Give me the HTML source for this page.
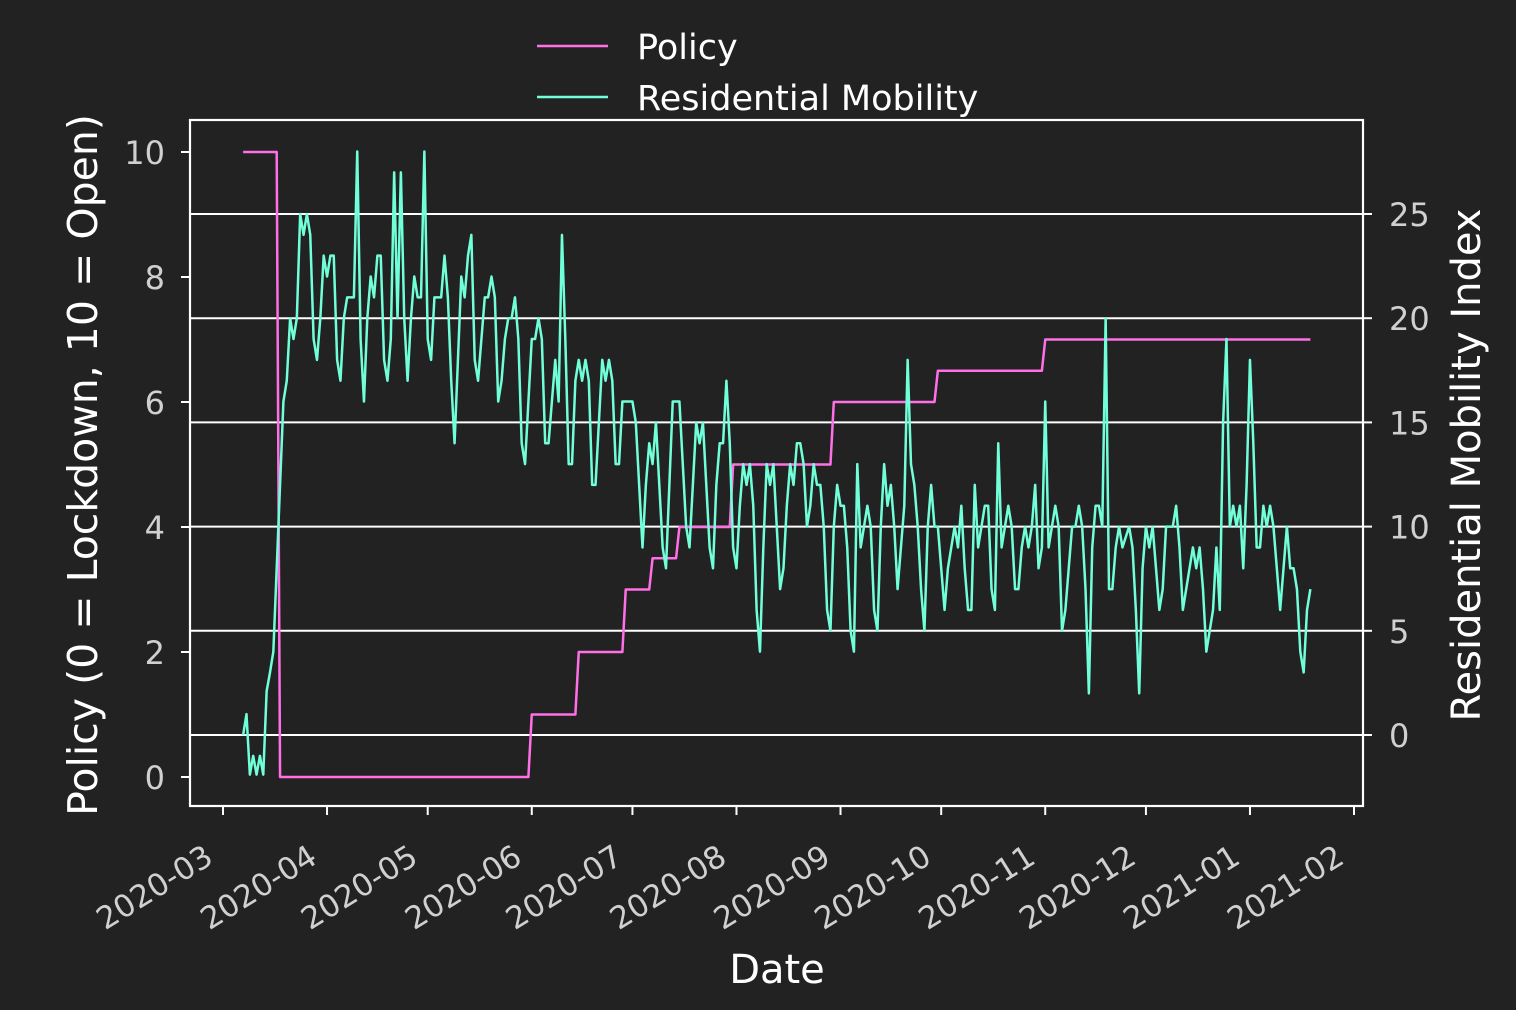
<!DOCTYPE html>
<html><head><meta charset="utf-8">
<style>
html,body{margin:0;padding:0;background:#222222;}
svg{display:block;font-family:"DejaVu Sans","Liberation Sans",sans-serif;}
</style></head>
<body>
<svg id="chart" width="1516" height="1010" viewBox="0 0 1516 1010" xmlns="http://www.w3.org/2000/svg">
<rect width="1516" height="1010" fill="#222222"/>
<g id="grid"></g>
<g id="series"></g>
<rect x="190" y="120" width="1173" height="686" fill="none" stroke="#ffffff" stroke-width="2.2"/>
<g id="axes"></g>
<text x="0" y="0" transform="translate(97,465) rotate(-90)" text-anchor="middle" font-size="41" fill="#ffffff">Policy (0 = Lockdown, 10 = Open)</text>
<text x="0" y="0" transform="translate(1480,465) rotate(-90)" text-anchor="middle" font-size="40" fill="#ffffff">Residential Mobility Index</text>
<text x="777" y="983" text-anchor="middle" font-size="40" fill="#ffffff">Date</text>
<g>
<g>
<line x1="537" y1="46" x2="608" y2="46" stroke="#ff70e6" stroke-width="2.5"/>
<text x="637" y="59" font-size="35" fill="#ffffff">Policy</text>
</g>
<g>
<line x1="537" y1="97" x2="608" y2="97" stroke="#70ffd8" stroke-width="2.5"/>
<text x="637" y="110" font-size="35" fill="#ffffff">Residential Mobility</text>
</g>
</g>
</svg>
<script>
// Data (days counted from 2020-03-01)
const startDay = 6;
const mobilityValues = [0,1,-1.9,-1,-1.9,-1,-1.9,2.1,3,4,8,12,16,17,20,19,20,25,24,25,24,19,18,20,23,22,23,23,18,17,20,21,21,21,28,19,16,20,22,21,23,23,18,17,19,27,20,27,20,17,20,22,21,21,28,19,18,21,21,21,23,21,17,14,18,22,21,23,24,18,17,19,21,21,22,21,16,17,19,20,20,21,19,14,13,16,19,19,20,19,14,14,16,18,16,24,19,13,13,17,18,17,18,17,12,12,15,18,17,18,17,13,13,16,16,16,16,15,12,9,12,14,13,15,12,9,8,12,16,16,16,13,10,9,12,15,14,15,12,9,8,12,14,14,17,14,9,8,11,13,12,13,11,6,4,9,13,12,13,10,7,8,11,13,12,14,14,13,10,11,13,12,12,10,6,5,10,12,11,11,9,5,4,13,9,10,11,10,6,5,10,13,11,12,10,7,9,11,18,13,12,10,7,5,10,12,10,10,8,6,8,9,10,9,11,8,6,6,12,9,10,11,11,7,6,14,9,10,11,10,7,7,9,10,9,10,12,8,9,16,9,10,11,10,5,6,8,10,10,11,10,7,2,9,11,11,10,20,7,7,9,10,9,9.5,10,9,6,2,8,10,9,10,8,6,7,10,10,10,11,9,6,7,8,9,8,9,7,4,5,6,9,6,15,19,10,11,10,11,8,12,18,14,9,9,11,10,11,10,8,6,8,10,8,8,7,4,3,6,7];
const policyChangeDays = [6,17,92,106,120,128,136,152,182,213,245,324];
const policyValues = [10,0,1,2,3,3.5,4,5,6,6.5,7,7];
const xTickLabels = ["2020-03","2020-04","2020-05","2020-06","2020-07","2020-08","2020-09","2020-10","2020-11","2020-12","2021-01","2021-02"];
const xTickDays = [0,31,61,92,122,153,184,214,245,275,306,337];
const leftTicks = [0,2,4,6,8,10];
const rightTicks = [0,5,10,15,20,25];

const NS = "http://www.w3.org/2000/svg";
const xScale = d => 223 + d * (1354 - 223) / 337;
const yLeft = v => 777 - v * 62.5;
const yRight = v => 735 - v * 20.84;
function mk(tag, attrs, parent){
  const e = document.createElementNS(NS, tag);
  for (const k in attrs) e.setAttribute(k, attrs[k]);
  parent.appendChild(e);
  return e;
}
const grid = document.getElementById("grid");
const axes = document.getElementById("axes");
const series = document.getElementById("series");

rightTicks.forEach(t => {
  const y = yRight(t);
  const gl = mk("line", {x1:190, x2:1363, y1:y, y2:y, stroke:"#ffffff", "stroke-width":2}, grid);
  
  
  const tk = mk("line", {x1:1363, x2:1372, y1:y, y2:y, stroke:"#ffffff", "stroke-width":2}, axes);
  
  
  const lb = mk("text", {x:1389, y:y + 12, "font-size":32, fill:"#d0d0d0"}, axes);
  lb.textContent = t;
  
  
});
leftTicks.forEach(t => {
  const y = yLeft(t);
  const tk = mk("line", {x1:181, x2:190, y1:y, y2:y, stroke:"#ffffff", "stroke-width":2}, axes);
  
  
  const lb = mk("text", {x:165, y:y + 12, "font-size":32, fill:"#d0d0d0", "text-anchor":"end"}, axes);
  lb.textContent = t;
  
  
});
xTickDays.forEach((d, i) => {
  const x = xScale(d);
  const tk = mk("line", {x1:x, x2:x, y1:806, y2:815, stroke:"#ffffff", "stroke-width":2}, axes);
  
  
  const lb = mk("text", {x:0, y:0, "font-size":31, fill:"#d0d0d0", "text-anchor":"end",
    transform:"translate(" + (x - 8) + ",862) rotate(-32)"}, axes);
  lb.textContent = xTickLabels[i];
  
  
});

// policy step line
let pp = "";
for (let i = 0; i < policyChangeDays.length; i++) {
  const x = xScale(policyChangeDays[i]);
  const y = yLeft(policyValues[i]);
  if (i === 0) pp += "M" + x + "," + y;
  else {
    const prevX = xScale(policyChangeDays[i] - 1);
    pp += " L" + prevX + "," + yLeft(policyValues[i-1]) + " L" + x + "," + y;
  }
}
const pl = mk("path", {d:pp, fill:"none", stroke:"#ff70e6", "stroke-width":2.5, "stroke-linejoin":"round"}, series);



// mobility line
const pts = mobilityValues.map((v, i) => xScale(startDay + i).toFixed(2) + "," + yRight(v).toFixed(2));
const ml = mk("polyline", {points:pts.join(" "), fill:"none", stroke:"#70ffd8", "stroke-width":2.5, "stroke-linejoin":"round"}, series);


</script>
</body></html>
